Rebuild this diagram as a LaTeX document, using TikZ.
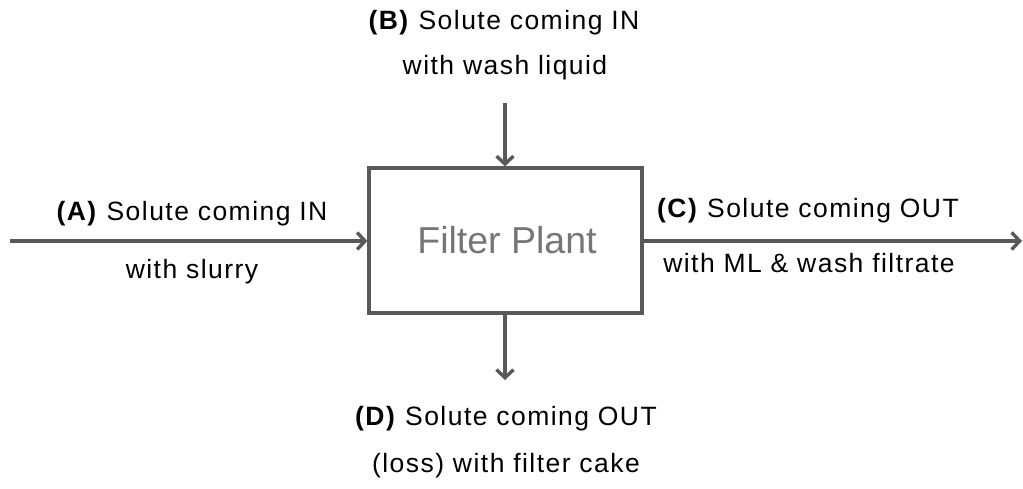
\documentclass[tikz,border=0pt]{standalone}
\usepackage{fontspec}
\setmainfont{Liberation Sans}
\usetikzlibrary{arrows.meta}
\definecolor{linegray}{HTML}{595959}
\definecolor{plantgray}{HTML}{767676}
\newfontfamily\labelfont[LetterSpace=5.5]{Liberation Sans}
\tikzset{
  flow/.style={draw=linegray, line width=3.4pt, -{Straight Barb[length=8pt,width=17pt]}},
  plantbox/.style={draw=linegray, line width=3.2pt, minimum width=273pt, minimum height=145pt, inner sep=0pt},
  lbl/.style={anchor=base, inner sep=0pt, font=\labelfont\fontsize{26.5pt}{30pt}\selectfont, text=black}
}
\begin{document}
\begin{tikzpicture}[x=1pt,y=1pt]
\useasboundingbox (0,0) rectangle (1023,488);
\node[plantbox] (plant) at (505.5,247.5) {};
\node[text=plantgray, font=\fontsize{37.5pt}{44pt}\selectfont, inner sep=0pt] (title) at (507,248) {Filter Plant};
% labels
\node[lbl] (a1) at (192,267) {\textbf{(A)} Solute coming IN};
\node[lbl] (a2) at (192,210) {with slurry};
\node[lbl] (b1) at (504,458) {\textbf{(B)} Solute coming IN};
\node[lbl] (b2) at (505,413) {with wash liquid};
\node[lbl] (c1) at (808,270) {\textbf{(C)} Solute coming OUT};
\node[lbl] (c2) at (809,215) {with ML \& wash filtrate};
\node[lbl] (d1) at (506,63) {\textbf{(D)} Solute coming OUT};
\node[lbl] (d2) at (506,16) {(loss) with filter cake};
% connector ends
\coordinate (ain) at (10,247);
\coordinate (cout) at (1022,247);
\coordinate (bin) at (505,385);
\coordinate (dout) at (505,108);
\draw[flow] (ain) -- (ain -| plant.west);
\draw[flow] (bin) -- (bin |- plant.north);
\draw[flow] (cout -| plant.east) -- (cout);
\draw[flow] (dout |- plant.south) -- (dout);
\end{tikzpicture}
\end{document}
